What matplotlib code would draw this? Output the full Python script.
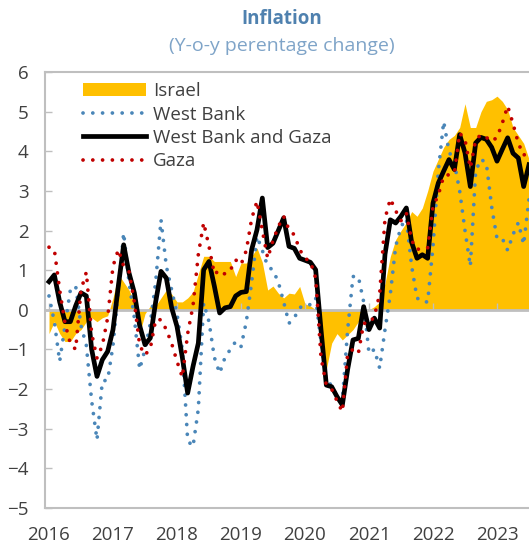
import numpy as np
import pandas as pd
import matplotlib.pyplot as plt

plt.rcParams['font.family'] = ['Open Sans', 'DejaVu Sans']

# monthly, Jan 2016 .. Jul 2023
months = pd.date_range('2016-01-01', periods=91, freq='MS')

israel = [-0.6, -0.3, -0.6, -0.8, -0.8, -0.6, -0.5, -0.3, -0.2, -0.3, -0.2, -0.15,
          0.3, 0.9, 0.7, 0.5, 0.2, -0.6, -0.1, 0.1, 0.1, 0.3, 0.5, 0.4,
          0.2, 0.2, 0.3, 0.45, 0.9, 1.35, 1.35, 1.22, 1.22, 1.22, 1.22, 0.84,
          1.18, 1.18, 1.35, 1.56, 1.2, 0.5, 0.6, 0.42, 0.3, 0.42, 0.4, 0.59,
          0.15, 0.1, 0.0, -0.2, -1.5, -0.84, -0.6, -0.76, -0.63, -0.5, -0.3, -0.1,
          0.0, 0.08, 0.2, 0.67, 1.35, 1.77, 2.0, 2.2, 2.48, 2.36, 2.57, 3.0,
          3.5, 3.8, 4.1, 4.3, 4.4, 4.6, 5.2, 4.6, 4.6, 5.0, 5.26, 5.3,
          5.39, 5.26, 5.05, 4.6, 4.4, 4.2, 3.8]

west_bank = [0.35, -0.3, -1.3, -0.4, 0.5, 0.6, -0.4, -0.9, -2.3, -3.28, -1.8, -1.77,
             -0.9, 0.5, 1.94, 0.7, -0.2, -1.5, -1.0, -0.34, 0.7, 2.27, 1.1, 0.5,
             -0.1, -1.0, -3.3, -3.45, -2.5, 0.17, -0.3, -1.2, -1.6, -1.2, -1.0, -0.8,
             -0.93, -0.3, 0.7, 1.85, 1.5, 1.1, 1.0, 0.7, 0.2, -0.34, -0.2, 0.05,
             0.13, 0.13, 0.3, -0.8, -1.8, -1.9, -2.2, -2.3, -0.5, 0.84, 0.84, 0.2,
             -1.1, -1.0, -1.47, -0.5, 0.4, 1.6, 2.1, 2.3, 1.1, 0.3, 0.2, 0.2,
             1.6, 3.5, 4.75, 4.0, 3.7, 3.0, 2.0, 1.1, 3.5, 3.8, 3.7, 2.6,
             1.8, 1.8, 1.5, 1.9, 2.2, 1.65, 2.8]

wbg = [0.71, 0.88, 0.2, -0.3, -0.3, 0.1, 0.43, 0.35, -1.0, -1.68, -1.26, -1.05,
       -0.5, 0.6, 1.64, 0.93, 0.43, -0.4, -0.88, -0.71, 0.2, 0.97, 0.8, 0.05,
       -0.42, -1.2, -2.1, -1.43, -0.84, 1.01, 1.22, 0.6, -0.08, 0.05, 0.08, 0.35,
       0.44, 0.46, 1.52, 2.02, 2.82, 1.57, 1.68, 2.0, 2.32, 1.6, 1.55, 1.3,
       1.25, 1.2, 1.01, -0.5, -1.9, -1.94, -2.19, -2.4, -1.5, -0.76, -0.72, 0.08,
       -0.5, -0.21, -0.46, 1.4, 2.27, 2.19, 2.36, 2.57, 1.7, 1.3, 1.39, 1.3,
       2.69, 3.2, 3.5, 3.79, 3.54, 4.42, 3.96, 3.11, 4.21, 4.35, 4.3, 4.1,
       3.75, 4.05, 4.34, 3.95, 3.83, 3.11, 3.66]

gaza = [1.58, 1.52, 0.5, -0.34, -0.85, -1.0, 0.5, 0.95, -0.6, -1.22, -0.9, -0.2,
        1.1, 1.52, 1.1, 0.97, 0.2, -0.9, -1.14, -0.97, -0.25, -0.25, -0.5, -0.85,
        -1.3, -1.7, -0.6, 0.1, 1.4, 2.2, 1.6, 0.9, 1.0, 0.9, 1.0, 1.26,
        1.14, 1.5, 2.3, 2.74, 2.0, 1.3, 1.75, 2.1, 2.36, 2.02, 1.89, 1.52,
        1.3, 1.22, 0.8, -1.2, -1.9, -2.0, -2.3, -2.57, -1.1, -1.0, -1.1, -0.34,
        -0.34, -0.17, 0.4, 2.3, 2.8, 2.5, 2.25, 2.44, 1.75, 1.52, 1.56, 1.56,
        2.6, 2.9, 3.37, 3.41, 3.45, 4.46, 4.29, 3.58, 4.29, 4.42, 4.35, 4.25,
        4.35, 4.71, 5.14, 4.7, 4.2, 3.9, 4.0]

years = ['2016', '2017', '2018', '2019', '2020', '2021', '2022', '2023']

x = np.arange(len(months))
year_pos = np.arange(len(years)) * 12

fig = plt.figure(figsize=(5.29, 5.48), dpi=100)
ax = fig.add_axes([45 / 529, 1 - 508 / 548, 484 / 529, 436 / 548])

gray = '#BFBFBF'
ax.fill_between(x, 0, israel, color='#FFC000', lw=0, label='Israel', zorder=1)
ax.axhline(0, color=gray, lw=2, zorder=1.5)
ax.vlines(year_pos, 0, 0.17, color=gray, lw=1, zorder=1.5)
ax.plot(x, west_bank, color='#4A86B8', lw=2.7, ls=(0, (0.01, 2.6)),
        dash_capstyle='round', label='West Bank', zorder=2)
ax.plot(x, wbg, color='black', lw=3.4, solid_joinstyle='round',
        label='West Bank and Gaza', zorder=3)
ax.plot(x, gaza, color='#C00000', lw=2.7, ls=(0, (0.01, 2.6)),
        dash_capstyle='round', label='Gaza', zorder=4)

ax.set_xlim(-0.75, 90)
ax.set_ylim(-5, 6)
ax.set_yticks(range(-5, 7))
ax.set_xticks(year_pos)
ax.set_xticklabels(years)
ax.tick_params(axis='x', length=0, pad=13, labelsize=13.5, colors='#404040')
ax.tick_params(axis='y', direction='in', length=5, width=1, color=gray,
               pad=12, labelsize=13.5, labelcolor='#404040')
for s in ['left', 'top', 'bottom']:
    ax.spines[s].set_color(gray)
    ax.spines[s].set_linewidth(1.5)
ax.spines['right'].set_visible(False)

leg = ax.legend(loc='upper left', bbox_to_anchor=(0.057, 1.0), frameon=False,
                fontsize=13.5, handlelength=3.35, handletextpad=0.4,
                labelspacing=0.28, borderaxespad=0.15)
for t in leg.get_texts():
    t.set_color('#404040')

fig.text(282 / 529, 1 - 19 / 548, 'Inflation', ha='center', va='center',
         fontsize=13.5, fontweight='bold', color='#4F81AF')
fig.text(282 / 529, 1 - 46 / 548, '(Y-o-y perentage change)', ha='center',
         va='center', fontsize=14, color='#7FA4C8')

fig.savefig('out.png', dpi=100)
